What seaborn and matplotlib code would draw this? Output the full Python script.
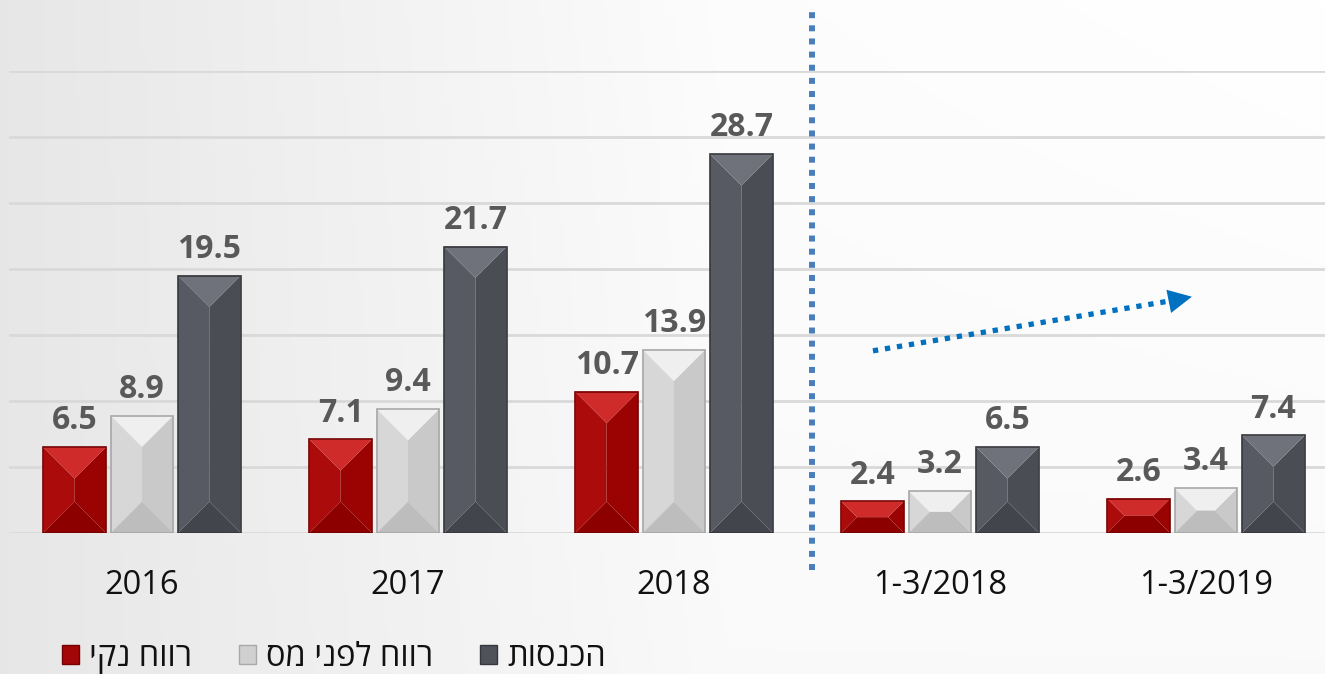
import numpy as np
import pandas as pd
import matplotlib
matplotlib.use("Agg")
import matplotlib.pyplot as plt
from matplotlib.patches import Patch, Polygon
import seaborn as sns

# ---------------- data ----------------
periods = ["2016", "2017", "2018", "1-3/2018", "1-3/2019"]
series_names = ["רווח נקי", "רווח לפני מס", "הכנסות"]
net_profit = [6.5, 7.1, 10.7, 2.4, 2.6]
pretax_profit = [8.9, 9.4, 13.9, 3.2, 3.4]
revenue = [19.5, 21.7, 28.7, 6.5, 7.4]

# ---------------- style ----------------
sns.set_theme(style="white")
plt.rcParams["font.family"] = ["Open Sans", "DejaVu Sans"]

base_colors = ["#a20606", "#d0d0d0", "#4f525a"]
bevel = {
    # top, left, right, bottom, edge
    "#a20606": ("#cf2b2b", "#ab0b0b", "#9b0202", "#8d0000", "#760000"),
    "#d0d0d0": ("#efefef", "#d7d7d7", "#c9c9c9", "#bdbdbd", "#a8a8a8"),
    "#4f525a": ("#6f727a", "#575a62", "#4a4d54", "#42454c", "#35373c"),
}


def visual(s):
    # Hebrew is right-to-left; matplotlib lays glyphs out left-to-right
    return s[::-1] if any("\u0590" <= c <= "\u05ff" for c in s) else s


df = pd.DataFrame({
    "period": periods * 3,
    "series": sum([[n] * len(periods) for n in series_names], []),
    "value": net_profit + pretax_profit + revenue,
})

W, H = 13.25, 6.74
fig = plt.figure(figsize=(W, H), dpi=100)

# background gradient
bg = fig.add_axes([0, 0, 1, 1], zorder=-5)
xs = np.linspace(0, 1, 300)
ys = np.linspace(0, 1, 150)
X, Y = np.meshgrid(xs, ys)
val = 0.905 + 0.075 * np.clip(X / 0.55, 0, 1) + 0.02 * np.clip((1 - Y), 0, 1) * X
img = np.dstack([val, val, val])
bg.imshow(img, aspect="auto", extent=[0, 1, 0, 1], origin="upper")
bg.axis("off")

ax = fig.add_axes([9 / 1325, 1 - 533 / 674, 1 - 9 / 1325, (533 - 71) / 674])
ax.patch.set_alpha(0)

sns.barplot(data=df, x="period", y="value", hue="series", order=periods,
            hue_order=series_names, palette=base_colors, width=0.76, gap=0.07,
            saturation=1, legend=False, ax=ax, err_kws={"linewidth": 0})

ax.set_xlim(-0.5, -0.5 + (1325 - 9) / 266)
ax.set_ylim(0, 35)
ax.set_yticks(np.arange(0, 36, 5))
ax.set_yticklabels([])
ax.grid(axis="y", color="#d9d9d9", linewidth=2)
ax.set_axisbelow(True)
for sp in ax.spines.values():
    sp.set_visible(False)
ax.set_xlabel("")
ax.set_ylabel("")
ax.tick_params(axis="x", length=0, pad=26, labelsize=23.5, labelcolor="#111111")
ax.tick_params(axis="y", length=0)

# bevelled bar faces, computed from the bars drawn by seaborn
fig.canvas.draw()
px_x = ax.transData.transform((1, 0))[0] - ax.transData.transform((0, 0))[0]
px_y = ax.transData.transform((0, 1))[1] - ax.transData.transform((0, 0))[1]
for cont, col in zip(ax.containers, base_colors):
    top_c, left_c, right_c, bot_c, edge_c = bevel[col]
    for bar in cont:
        x0, y0 = bar.get_x(), bar.get_y()
        w, h = bar.get_width(), bar.get_height()
        x1, y1 = x0 + w, y0 + h
        d = min(w * px_x / 2, h * px_y / 2)
        dx, dy = d / px_x, d / px_y
        polys = [
            ([(x0, y0), (x0, y1), (x0 + dx, y1 - dy), (x0 + dx, y0 + dy)], left_c),
            ([(x1, y0), (x1, y1), (x1 - dx, y1 - dy), (x1 - dx, y0 + dy)], right_c),
            ([(x0, y1), (x1, y1), (x1 - dx, y1 - dy), (x0 + dx, y1 - dy)], top_c),
            ([(x0, y0), (x1, y0), (x1 - dx, y0 + dy), (x0 + dx, y0 + dy)], bot_c),
        ]
        for pts, c in polys:
            ax.add_patch(Polygon(pts, closed=True, facecolor=c, edgecolor="none", zorder=3))
        bar.set_edgecolor(edge_c)
        bar.set_linewidth(1.2)
        bar.set_zorder(4)
        bar.set_facecolor("none")
    ax.bar_label(cont, fmt="%.1f", padding=7, fontsize=23, fontweight="bold",
                 color="#595959")

# separator between yearly and quarterly figures
sep_x = 2.52
ax.axvline(sep_x, ymin=-0.08, ymax=1.13, color="#4a7ebb", linewidth=4.3,
           linestyle=(0, (1, 1.2)), clip_on=False, zorder=5)

# growth arrow
arrow_start = (2.748, 13.8)
arrow_end = (3.885, 17.65)
arrow_tip = (3.947, 17.9)
ax.plot([arrow_start[0], arrow_end[0]], [arrow_start[1], arrow_end[1]],
        color="#0070c0", linewidth=3.8, linestyle=(0, (1, 1.3)), zorder=5)
ax.annotate("", xy=arrow_tip, xytext=arrow_end,
            arrowprops=dict(arrowstyle="-|>,head_length=1.0,head_width=0.5",
                            color="#0070c0", lw=0, mutation_scale=17,
                            shrinkA=0, shrinkB=0), zorder=6)

# legend
handles = [Patch(facecolor=c, edgecolor=bevel[c][4], linewidth=1) for c in base_colors]
fig.legend(handles, [visual(n) for n in series_names], loc="center left",
           bbox_to_anchor=(62 / 1325, 1 - 658 / 674), ncol=3, frameon=False,
           fontsize=23.5, handlelength=0.52, handleheight=0.52, handletextpad=0.3,
           columnspacing=1.45, borderpad=0, borderaxespad=0, labelcolor="#111111")

fig.savefig("out.png", dpi=100)
